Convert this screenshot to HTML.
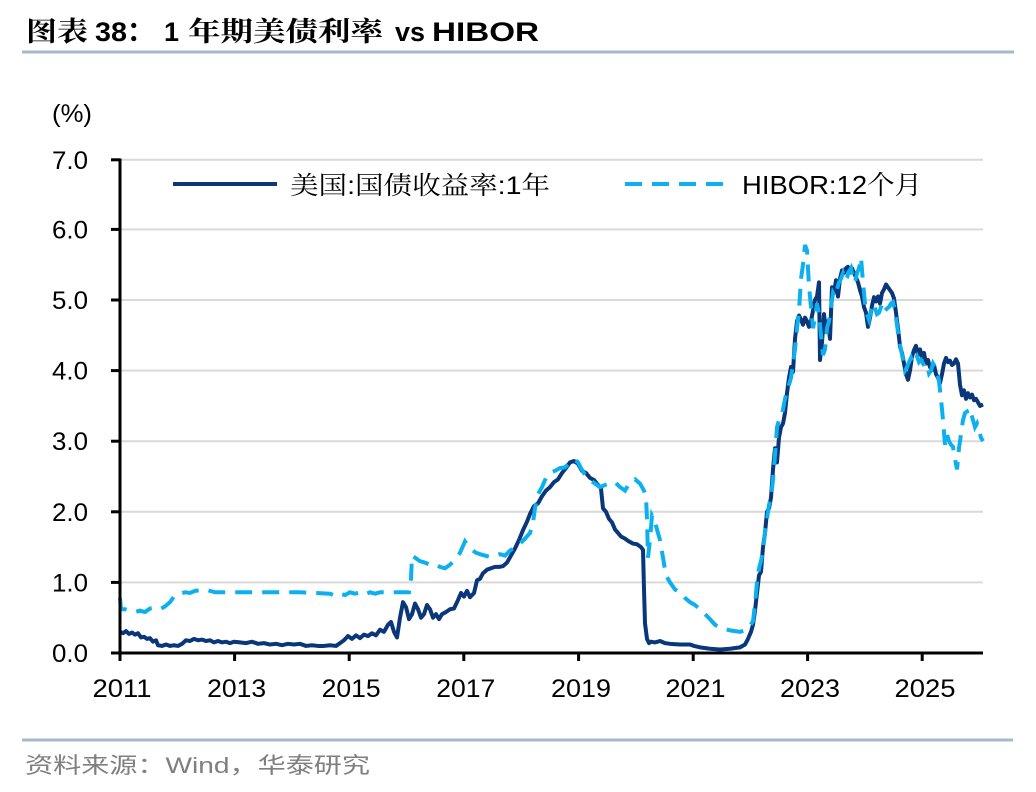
<!DOCTYPE html>
<html>
<head>
<meta charset="utf-8">
<style>
html,body{margin:0;padding:0;background:#fff;}
svg{display:block;}
</style>
</head>
<body>
<svg width="1036" height="792" viewBox="0 0 1036 792" xmlns="http://www.w3.org/2000/svg">
<rect width="1036" height="792" fill="#fff"/>

<!-- Title -->
<g font-family="'Liberation Sans','Noto Serif CJK SC',serif" font-weight="bold" font-size="27" fill="#000">
<text x="26" y="41" textLength="62" lengthAdjust="spacingAndGlyphs" font-family="'Noto Serif CJK SC','Noto Sans CJK SC',serif">图表</text>
<text x="95" y="41" textLength="32" lengthAdjust="spacingAndGlyphs" font-family="'Liberation Sans',sans-serif">38</text>
<text x="127" y="41" font-family="'Noto Sans CJK SC',sans-serif">：</text>
<text x="164" y="41" font-family="'Liberation Sans',sans-serif">1</text>
<text x="188" y="41" textLength="195" lengthAdjust="spacingAndGlyphs" font-family="'Noto Serif CJK SC',serif">年期美债利率</text>
<text x="395" y="41" textLength="30" lengthAdjust="spacingAndGlyphs" font-family="'Liberation Sans',sans-serif">vs</text>
<text x="432" y="41" textLength="107" lengthAdjust="spacingAndGlyphs" font-family="'Liberation Sans',sans-serif">HIBOR</text>
</g>
<line x1="22" y1="52" x2="1014" y2="52" stroke="#a6b8cc" stroke-width="3"/>

<!-- unit -->
<text x="52" y="122" font-family="'Liberation Sans',sans-serif" font-size="25" textLength="40" lengthAdjust="spacingAndGlyphs" fill="#000">(%)</text>

<!-- gridlines -->
<g stroke="#d9d9d9" stroke-width="2">
<line x1="120" y1="159.8" x2="983" y2="159.8"/>
<line x1="120" y1="229.4" x2="983" y2="229.4"/>
<line x1="120" y1="300" x2="983" y2="300"/>
<line x1="120" y1="370.6" x2="983" y2="370.6"/>
<line x1="120" y1="441.2" x2="983" y2="441.2"/>
<line x1="120" y1="511.8" x2="983" y2="511.8"/>
<line x1="120" y1="582.4" x2="983" y2="582.4"/>
</g>

<!-- y labels -->
<g font-family="'Liberation Sans',sans-serif" font-size="25" fill="#000" text-anchor="end">
<text x="88" y="168.8" textLength="36" lengthAdjust="spacingAndGlyphs">7.0</text>
<text x="88" y="238.4" textLength="36" lengthAdjust="spacingAndGlyphs">6.0</text>
<text x="88" y="309" textLength="36" lengthAdjust="spacingAndGlyphs">5.0</text>
<text x="88" y="379.6" textLength="36" lengthAdjust="spacingAndGlyphs">4.0</text>
<text x="88" y="450.2" textLength="36" lengthAdjust="spacingAndGlyphs">3.0</text>
<text x="88" y="520.8" textLength="36" lengthAdjust="spacingAndGlyphs">2.0</text>
<text x="88" y="591.4" textLength="36" lengthAdjust="spacingAndGlyphs">1.0</text>
<text x="88" y="662" textLength="36" lengthAdjust="spacingAndGlyphs">0.0</text>
</g>

<!-- x labels -->
<g font-family="'Liberation Sans',sans-serif" font-size="25" fill="#000" text-anchor="middle">
<text x="122" y="697" textLength="59" lengthAdjust="spacingAndGlyphs">2011</text>
<text x="236.6" y="697" textLength="59" lengthAdjust="spacingAndGlyphs">2013</text>
<text x="351.2" y="697" textLength="59" lengthAdjust="spacingAndGlyphs">2015</text>
<text x="465.8" y="697" textLength="59" lengthAdjust="spacingAndGlyphs">2017</text>
<text x="581" y="697" textLength="60" lengthAdjust="spacingAndGlyphs">2019</text>
<text x="695.5" y="697" textLength="60" lengthAdjust="spacingAndGlyphs">2021</text>
<text x="810" y="697" textLength="60" lengthAdjust="spacingAndGlyphs">2023</text>
<text x="925" y="697" textLength="61" lengthAdjust="spacingAndGlyphs">2025</text>
</g>

<!-- series -->
<g transform="matrix(1 0 0 -70.6 0 653)">
<polyline vector-effect="non-scaling-stroke" fill="none" stroke="#0a367a" stroke-width="4" stroke-linejoin="round" points="
120,0.30 123,0.28 126,0.31 129,0.27 132,0.29 135,0.26 138,0.28 141,0.22 144,0.23 147,0.20 150,0.21 153,0.16 156,0.18 158,0.11 162,0.10 166,0.12 170,0.10 174,0.11 178,0.10 182,0.13 186,0.18 190,0.17 194,0.20 198,0.18 202,0.19 206,0.17 210,0.18 214,0.15 218,0.17 222,0.15 226,0.16 230,0.14 234,0.16 240,0.15 246,0.14 252,0.16 258,0.13 264,0.14 270,0.12 276,0.13 282,0.11 288,0.13 294,0.12 300,0.13 306,0.10 312,0.11 318,0.10 324,0.10 330,0.11 336,0.10 340,0.14 344,0.18 348,0.24 352,0.20 356,0.25 360,0.21 364,0.26 368,0.24 372,0.28 376,0.25 380,0.33 384,0.30 388,0.40 391,0.44 394,0.30 397,0.22 400,0.50 403,0.72 406,0.65 409,0.48 412,0.55 415,0.70 418,0.62 421,0.50 424,0.55 427,0.68 430,0.62 433,0.50 436,0.55 439,0.48 442,0.55 446,0.58 450,0.62 454,0.63 458,0.75 461,0.85 464,0.80 467,0.88 470,0.79 474,0.85 477,1.03 480,1.05 483,1.13 487,1.18 491,1.20 495,1.22 499,1.22 503,1.23 507,1.28 511,1.38 515,1.48 519,1.60 523,1.74 527,1.86 530,1.97 534,2.08 538,2.12 542,2.22 546,2.30 550,2.35 554,2.42 558,2.46 562,2.55 566,2.62 570,2.70 574,2.72 578,2.68 582,2.58 586,2.55 590,2.48 594,2.45 598,2.38 601,2.33 603,2.05 606,2.00 609,1.90 612,1.85 615,1.75 618,1.70 621,1.65 625,1.62 629,1.58 633,1.55 637,1.54 641,1.50 643,1.46 644,0.90 645,0.42 647,0.20 649,0.14 651,0.16 655,0.15 660,0.17 665,0.14 670,0.13 680,0.12 690,0.12 694,0.10 700,0.08 710,0.06 720,0.05 730,0.06 740,0.08 745,0.12 748,0.20 751,0.30 753,0.40 755,0.60 757,0.85 759,1.10 761,1.15 763,1.50 765,1.70 767,2.00 769,2.05 771,2.20 773,2.60 775,2.90 777,2.70 779,3.05 781,3.20 783,3.25 785,3.40 787,3.68 789,3.90 791,4.05 793,3.98 795,4.45 797,4.70 799,4.78 801,4.72 803,4.65 805,4.75 807,4.70 809,4.62 811,4.70 813,4.85 815,5.00 817,5.05 819,5.25 820,4.15 822,4.40 824,4.80 826,4.55 828,4.70 830,4.45 832,5.18 834,5.10 836,5.28 838,5.05 840,5.30 842,5.42 844,5.38 846,5.45 848,5.47 850,5.40 852,5.45 854,5.38 856,5.32 858,5.25 860,5.14 862,5.05 864,4.90 866,4.82 868,4.62 870,4.75 872,4.92 874,5.04 876,4.98 878,5.05 880,4.95 882,5.10 884,5.15 886,5.22 888,5.18 890,5.14 892,5.10 894,5.02 896,4.82 898,4.60 900,4.34 902,4.25 904,4.10 906,3.95 908,3.87 910,4.00 912,4.20 914,4.29 916,4.35 918,4.22 920,4.30 922,4.19 924,4.25 926,4.10 928,4.15 930,4.05 932,4.01 934,4.08 936,3.95 938,3.90 940,3.82 942,3.95 944,4.10 946,4.18 948,4.12 950,4.14 952,4.08 954,4.10 956,4.16 958,4.10 960,3.80 962,3.65 964,3.72 966,3.60 968,3.68 970,3.62 972,3.66 974,3.58 976,3.60 978,3.55 980,3.50 983,3.52"/>
<polyline vector-effect="non-scaling-stroke" fill="none" stroke="#0db0ee" stroke-width="4" stroke-dasharray="17 10" points="
120,0.78 121,0.62 125,0.62 130,0.60 135,0.58 140,0.60 145,0.58 150,0.63 155,0.64 160,0.62 165,0.66 170,0.72 175,0.82 180,0.84 185,0.86 190,0.85 195,0.88 200,0.89 205,0.90 210,0.88 215,0.86 220,0.86 260,0.86 300,0.86 330,0.84 335,0.81 340,0.84 345,0.82 350,0.86 355,0.84 360,0.86 365,0.83 370,0.86 375,0.84 380,0.86 385,0.86 409,0.86 411,1.05 412,1.38 416,1.34 420,1.30 425,1.28 430,1.25 435,1.26 440,1.22 445,1.20 450,1.25 455,1.32 460,1.42 465,1.58 468,1.52 472,1.46 476,1.42 480,1.40 485,1.38 490,1.36 495,1.38 500,1.40 505,1.38 510,1.45 515,1.50 520,1.55 525,1.62 530,1.70 533,1.85 535,2.05 538,2.25 542,2.35 546,2.48 550,2.55 555,2.58 560,2.62 565,2.63 570,2.70 575,2.74 578,2.70 581,2.62 585,2.52 590,2.45 595,2.40 600,2.35 605,2.38 610,2.40 615,2.42 620,2.35 625,2.30 630,2.42 635,2.46 640,2.40 644,2.30 646,2.20 647,1.90 648,1.35 650,1.60 652,1.95 654,1.90 657,1.75 660,1.60 663,1.35 666,1.10 670,1.00 675,0.90 680,0.86 685,0.78 690,0.72 695,0.68 700,0.62 705,0.55 710,0.48 715,0.40 720,0.36 725,0.34 730,0.32 735,0.31 740,0.30 745,0.32 750,0.38 753,0.45 755,0.70 757,1.00 759,1.20 761,1.30 763,1.45 765,1.70 767,1.90 769,2.10 771,2.20 773,2.45 775,2.80 777,3.20 779,3.30 781,3.35 783,3.45 785,3.60 787,3.70 789,3.80 791,3.90 793,4.10 795,4.30 797,4.60 799,4.85 801,5.30 803,5.50 805,5.78 807,5.70 809,5.20 811,4.90 813,4.60 815,4.75 817,4.95 819,4.80 821,4.50 823,4.22 825,4.30 827,4.60 829,4.70 831,4.90 833,5.10 835,5.05 837,5.15 839,5.25 841,5.30 843,5.38 845,5.28 847,5.32 849,5.40 851,5.45 853,5.30 855,5.25 857,5.38 859,5.45 861,5.60 863,5.25 865,4.95 867,4.80 869,4.72 871,4.85 873,4.95 875,4.88 877,4.80 879,4.82 881,4.90 883,4.95 885,4.85 887,4.88 889,4.90 891,4.95 893,4.97 895,4.85 897,4.65 899,4.43 901,4.30 903,4.15 905,4.00 907,4.05 909,4.12 911,4.18 913,4.10 915,4.15 917,4.20 919,4.12 921,4.15 923,4.10 925,4.05 927,4.08 929,3.96 931,4.00 933,4.10 935,4.05 937,4.00 939,3.85 941,3.60 943,3.30 945,2.95 947,3.10 949,3.00 951,2.95 953,2.92 955,2.75 957,2.60 959,2.90 961,3.10 963,3.30 965,3.40 967,3.42 969,3.35 971,3.40 973,3.30 975,3.20 977,3.25 979,3.15 981,3.05 983,3.00"/>
</g>

<!-- axes -->
<g stroke="#000" stroke-width="3">
<line x1="120" y1="158.5" x2="120" y2="661"/>
<line x1="111" y1="653" x2="983" y2="653"/>
<line x1="111" y1="159.8" x2="120" y2="159.8"/>
<line x1="111" y1="229.4" x2="120" y2="229.4"/>
<line x1="111" y1="300" x2="120" y2="300"/>
<line x1="111" y1="370.6" x2="120" y2="370.6"/>
<line x1="111" y1="441.2" x2="120" y2="441.2"/>
<line x1="111" y1="511.8" x2="120" y2="511.8"/>
<line x1="111" y1="582.4" x2="120" y2="582.4"/>
<line x1="234.6" y1="653" x2="234.6" y2="661"/>
<line x1="349.2" y1="653" x2="349.2" y2="661"/>
<line x1="463.8" y1="653" x2="463.8" y2="661"/>
<line x1="578.6" y1="653" x2="578.6" y2="661"/>
<line x1="693.2" y1="653" x2="693.2" y2="661"/>
<line x1="807.6" y1="653" x2="807.6" y2="661"/>
<line x1="922.2" y1="653" x2="922.2" y2="661"/>
</g>

<!-- legend -->
<line x1="173" y1="184" x2="277" y2="184" stroke="#0a367a" stroke-width="4"/>
<text x="290" y="194" font-family="'Liberation Sans','Noto Serif CJK SC',serif" font-size="25" textLength="260" lengthAdjust="spacingAndGlyphs" fill="#000">美国:国债收益率:1年</text>
<line x1="625" y1="184" x2="723" y2="184" stroke="#0db0ee" stroke-width="4" stroke-dasharray="17 10"/>
<text x="742" y="194" font-family="'Liberation Sans','Noto Serif CJK SC',serif" font-size="26" textLength="180" lengthAdjust="spacingAndGlyphs" fill="#000">HIBOR:12个月</text>

<!-- footer -->
<line x1="22" y1="740" x2="1013" y2="740" stroke="#a6b8cc" stroke-width="3"/>
<text x="25" y="773" font-family="'Liberation Sans','Noto Sans CJK SC',sans-serif" font-size="22" textLength="345" lengthAdjust="spacingAndGlyphs" fill="#7f7f7f">资料来源：Wind，华泰研究</text>
</svg>
</body>
</html>
